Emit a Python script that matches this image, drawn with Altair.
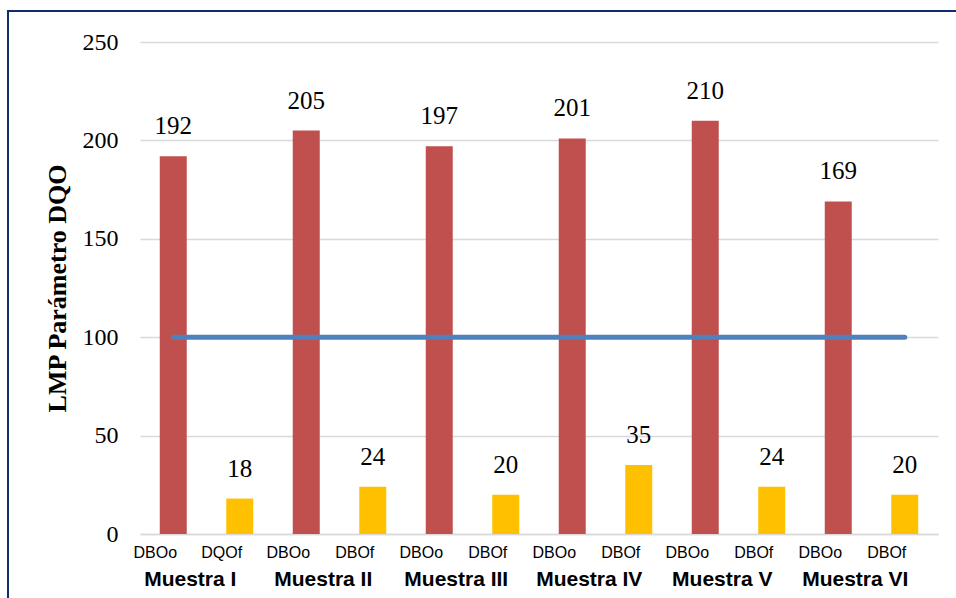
import altair as alt
import pandas as pd

muestras = ["Muestra I", "Muestra II", "Muestra III", "Muestra IV", "Muestra V", "Muestra VI"]
sub_o = ["DBOo", "DBOo", "DBOo", "DBOo", "DBOo", "DBOo"]
sub_f = ["DQOf", "DBOf", "DBOf", "DBOf", "DBOf", "DBOf"]
val_o = [192, 205, 197, 201, 210, 169]
val_f = [18, 24, 20, 35, 24, 20]
lmp = 100
y_ticks = [0, 50, 100, 150, 200, 250]

rows = []
for i, m in enumerate(muestras):
    rows.append({"key": f"{i}a|{sub_o[i]}", "muestra": m, "serie": "inicial",
                 "valor": val_o[i], "lmp": lmp, "first": True})
    rows.append({"key": f"{i}b|{sub_f[i]}", "muestra": m, "serie": "final",
                 "valor": val_f[i], "lmp": lmp, "first": False})
df = pd.DataFrame(rows)
order = list(df["key"])

YTITLE = "LMP Parámetro DQO"
SERIF = "Liberation Serif"

x = alt.X(
    "key:N", sort=order,
    scale=alt.Scale(paddingInner=0.594, paddingOuter=0.297),
    axis=alt.Axis(title=None, labelExpr="split(datum.value, '|')[1]", labelAngle=0,
                  ticks=False, domainColor="#D9D9D9", domainWidth=1.5,
                  labelFont="Liberation Sans", labelFontSize=16, labelColor="black",
                  labelPadding=10, labelOffset=-18, grid=False),
)

def yscale():
    return alt.Scale(domain=[0, 250], nice=False, zero=True)

yaxis = alt.Axis(values=y_ticks, title=YTITLE, grid=True, gridColor="#D9D9D9", gridWidth=1.5,
                 domain=False, ticks=False, labelFont=SERIF, labelFontSize=24,
                 labelColor="black", labelPadding=22, titleFont=SERIF,
                 titleFontSize=26, titleFontWeight="bold", titleColor="black", titlePadding=12)

base = alt.Chart(df)

bars = base.mark_bar().encode(
    x=x,
    y=alt.Y("valor:Q", scale=yscale(), axis=yaxis, title=YTITLE),
    color=alt.Color("serie:N", scale=alt.Scale(domain=["inicial", "final"],
                                                range=["#C0504D", "#FFC000"]), legend=None),
)

labels = base.mark_text(baseline="bottom", dy=-17, font=SERIF, fontSize=25,
                        color="black").encode(
    x=x, y=alt.Y("valor:Q", scale=yscale(), title=YTITLE), text="valor:Q")

line = base.mark_line(color="#4F81BD", strokeWidth=5, strokeCap="round").encode(
    x=x, y=alt.Y("lmp:Q", scale=yscale(), title=YTITLE))

groups = base.transform_filter("datum.first").mark_text(
    font="Liberation Sans", fontSize=21, fontWeight="bold", dx=17, baseline="middle",
    color="black").encode(x=x, y=alt.value(538), text="muestra:N")

border = alt.Chart(pd.DataFrame({"a": [0]})).mark_rect(
    fill="white", fillOpacity=0, stroke="#0F2C6E", strokeWidth=2).encode(
    x=alt.value(-132), x2=alt.value(900), y=alt.value(-31), y2=alt.value(700))

chart = alt.layer(bars, line, labels, groups, border).properties(
    width=798, height=492,
    padding={"left": 140, "top": 42, "right": 18, "bottom": 64},
    autosize=alt.AutoSizeParams(type="none"),
    background="white",
).configure_view(stroke=None).configure_text(font=SERIF)

chart.save("out.html", embed_options={"renderer": "svg", "actions": False})
